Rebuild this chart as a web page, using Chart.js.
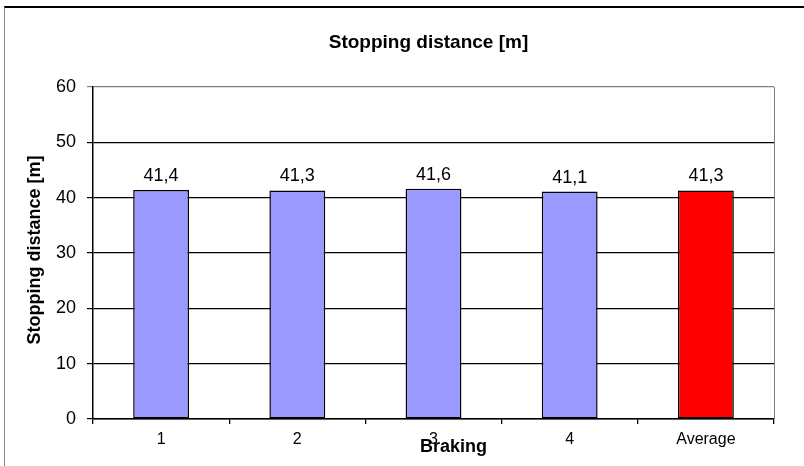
<!DOCTYPE html>
<html><head><meta charset="utf-8">
<script src="https://cdn.jsdelivr.net/npm/chart.js@4"></script>
<style>
html,body{margin:0;padding:0;background:#fff;}
#wrap{position:relative;width:804px;height:466px;overflow:hidden;background:#fff;}
#frame{position:absolute;left:4px;top:6px;width:900px;height:600px;border-top:2px solid #000;border-left:1px solid #8c8c8c;pointer-events:none;}
canvas{position:absolute;left:0;top:0;}
</style></head><body>
<div id="wrap"><canvas id="c" width="804" height="466"></canvas><div id="frame"></div></div>
<script>
const categories = ['1', '2', '3', '4', 'Average'];
const distances = [41.4, 41.3, 41.6, 41.1, 41.3];
const yTickValues = [0, 10, 20, 30, 40, 50, 60];
const chartTitle = 'Stopping distance [m]';
const xTitle = 'Braking';
const yTitle = 'Stopping distance [m]';
const barColors = ['#9999FF', '#9999FF', '#9999FF', '#9999FF', '#FF0000'];

const FONT = "'Liberation Sans', Arial, sans-serif";

const decor = {
  id: 'decor',
  afterDatasetsDraw(chart) {
    const ctx = chart.ctx;
    const meta = chart.getDatasetMeta(0);
    ctx.save();
    ctx.fillStyle = '#000';
    ctx.font = '18px ' + FONT;
    ctx.textAlign = 'center';
    ctx.textBaseline = 'middle';
    meta.data.forEach((bar, i) => {
      const txt = distances[i].toFixed(1).replace('.', ',');
      ctx.fillText(txt, bar.x, bar.y - 14);
    });
    ctx.restore();
  },
  afterDraw(chart) {
    const ctx = chart.ctx;
    const a = chart.chartArea;
    ctx.save();
    ctx.strokeStyle = '#808080';
    ctx.lineWidth = 1;
    ctx.beginPath();
    ctx.moveTo(Math.round(a.right) + 0.5, a.top);
    ctx.lineTo(Math.round(a.right) + 0.5, a.bottom);
    ctx.stroke();
    ctx.fillStyle = '#000';
    ctx.textAlign = 'center';
    ctx.textBaseline = 'middle';
    ctx.font = 'bold 19px ' + FONT;
    ctx.fillText(chartTitle, (a.left + a.right) / 2 - 5, 43);
    ctx.font = 'bold 18px ' + FONT;
    ctx.fillText(xTitle, (a.left + a.right) / 2 + 20, 447);
    ctx.translate(35, (a.top + a.bottom) / 2 - 3);
    ctx.rotate(-Math.PI / 2);
    ctx.fillText(yTitle, 0, 0);
    ctx.restore();
  }
};

new Chart(document.getElementById('c'), {
  type: 'bar',
  data: {
    labels: categories,
    datasets: [{
      data: distances,
      backgroundColor: barColors,
      borderColor: '#000',
      borderWidth: 1.5,
      borderSkipped: false,
      categoryPercentage: 1,
      barPercentage: 0.41
    }]
  },
  options: {
    responsive: false,
    animation: false,
    devicePixelRatio: 1,
    layout: { padding: { top: 87, right: 30, left: 0, bottom: 0 } },
    plugins: { legend: { display: false }, tooltip: { enabled: false }, title: { display: false } },
    scales: {
      x: {
        grid: { display: true, drawOnChartArea: false, drawTicks: true, tickLength: 5, color: '#000', offset: true, lineWidth: 1.3 },
        border: { color: '#000', width: 1.5 },
        ticks: { color: '#000', font: { size: 16, family: FONT }, padding: 6, maxRotation: 0 },
        afterFit(s) { s.height = 47; }
      },
      y: {
        min: yTickValues[0],
        max: yTickValues[yTickValues.length - 1],
        afterBuildTicks(s) { s.ticks = yTickValues.map(v => ({ value: v })); },
        grid: {
          color: (c) => (c.tick && c.tick.value === 60 ? '#808080' : '#000'),
          lineWidth: 1.2,
          tickLength: 6,
          drawTicks: true
        },
        border: { color: '#000', width: 1.5 },
        ticks: { color: '#000', font: { size: 18, family: FONT }, padding: 11 },
        afterFit(s) { s.width = 93; }
      }
    }
  },
  plugins: [decor]
});
</script>
</body></html>
